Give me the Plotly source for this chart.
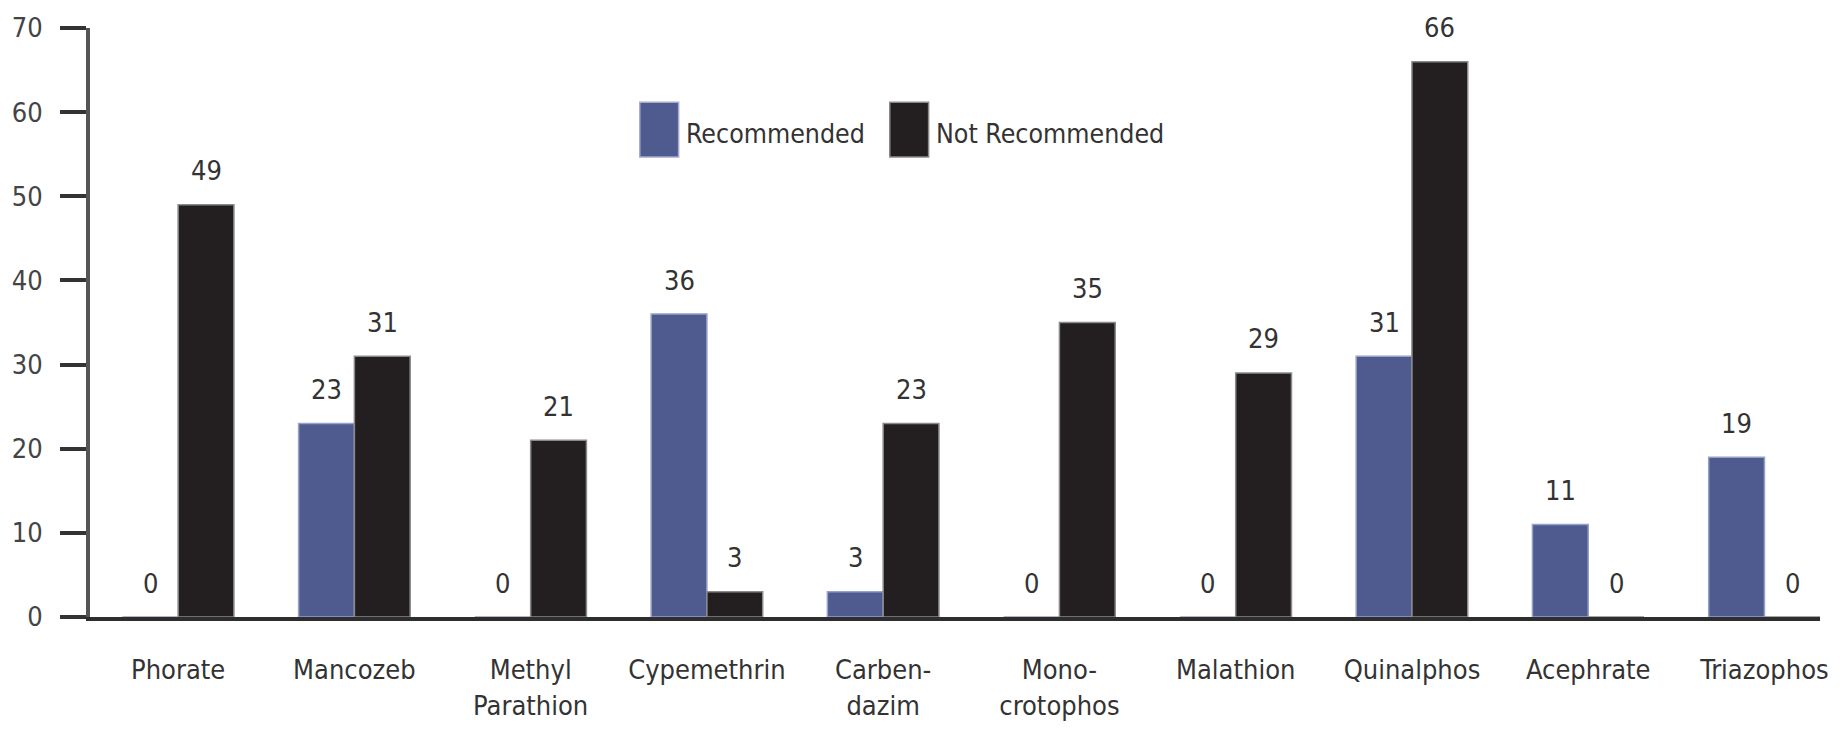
import plotly.graph_objects as go

categories = ["Phorate", "Mancozeb", "Methyl<br>Parathion", "Cypemethrin", "Carben-<br>dazim",
              "Mono-<br>crotophos", "Malathion", "Quinalphos", "Acephrate", "Triazophos"]
recommended = [0, 23, 0, 36, 3, 0, 0, 31, 11, 19]
not_recommended = [49, 31, 21, 3, 23, 35, 29, 66, 0, 0]
y_ticks = [0, 10, 20, 30, 40, 50, 60, 70]

BLUE = "#4f5b8f"
BLACK = "#231f20"
FONT = "DejaVu Sans Condensed, Liberation Sans Narrow, sans-serif"

W, H = 1848, 733
L, R, T, B = 83, 28, 28, 111
PW, PH = W - L - R, H - T - B
BARGAP = 0.367
half = (1 - BARGAP) / 4

idx = list(range(len(categories)))

fig = go.Figure()
fig.add_trace(go.Bar(x=idx, y=recommended, name="Recommended",
                     marker=dict(color=BLUE, line=dict(color="#97a0c6", width=1.5))))
fig.add_trace(go.Bar(x=idx, y=not_recommended, name="Not Recommended",
                     marker=dict(color=BLACK, line=dict(color="#8a8a8a", width=1.5))))

annotations = []
for i in idx:
    for val, off in ((recommended[i], -half), (not_recommended[i], half)):
        annotations.append(dict(x=i + off, y=val, xref="x", yref="y", text=str(val),
                                showarrow=False, yanchor="middle", yshift=34,
                                font=dict(family=FONT, size=27, color="#333333")))

def px_x(p):
    return (p - L) / PW

def px_y(p):
    return (H - B - p) / PH

shapes = []
legend_items = [("Recommended", BLUE, "#a3abd0", 635, 674), ("Not Recommended", BLACK, "#8a8a8a", 886, 925)]
for label, col, edge, x0, x1 in legend_items:
    shapes.append(dict(type="rect", xref="paper", yref="paper",
                       x0=px_x(x0), x1=px_x(x1), y0=px_y(158), y1=px_y(103),
                       fillcolor=col, line=dict(color=edge, width=1.5)))
    annotations.append(dict(x=px_x(x1 + 5), y=px_y(134), xref="paper", yref="paper",
                            text=label, showarrow=False, xanchor="left", yanchor="middle",
                            font=dict(family=FONT, size=26.5, color="#333333")))

fig.update_layout(
    width=W, height=H,
    margin=dict(l=L, r=R, t=T, b=B, pad=0),
    plot_bgcolor="white", paper_bgcolor="white",
    barmode="group", bargap=BARGAP, bargroupgap=0,
    showlegend=False,
    annotations=annotations, shapes=shapes,
    font=dict(family=FONT, color="#333333"),
)
fig.update_xaxes(
    tickmode="array", tickvals=idx, ticktext=categories,
    range=[-0.5, 9.315], showline=True, linecolor="#2e2e2e", linewidth=4,
    ticks="", showgrid=False, zeroline=False,
    tickfont=dict(family=FONT, size=27, color="#333333"), ticklabelstandoff=26,
)
fig.update_yaxes(
    range=[0, 70], tickvals=y_ticks, showline=True, linecolor="#555555", linewidth=4,
    ticks="outside", ticklen=26, tickwidth=4, tickcolor="#333333",
    showgrid=False, zeroline=False,
    tickfont=dict(family=FONT, size=27, color="#444444"), ticklabelstandoff=12,
)

fig.write_html("out.html")
